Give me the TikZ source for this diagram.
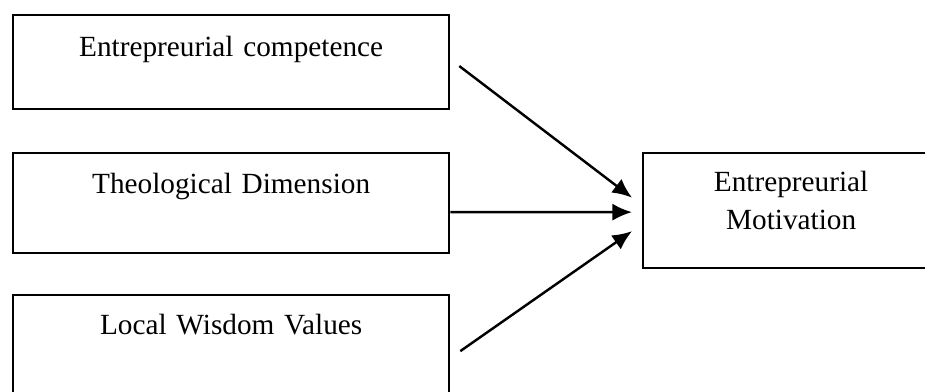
\documentclass[tikz,border=0pt]{standalone}
\usepackage{fontspec}
\setmainfont{Liberation Serif}
\usetikzlibrary{arrows.meta,positioning}

\tikzset{
  box/.style={draw, line width=0.9pt, inner sep=0pt, anchor=north west, align=center,
    font=\fontsize{12}{15.6}\selectfont},
  conn/.style={line width=1pt, -{Latex[length=8pt,width=7pt]}}
}

\begin{document}
\begin{tikzpicture}[x=0.41pt,y=-0.41pt]
\useasboundingbox (0,0) rectangle (925,392);

% Factors
\node[box, text width=178.8pt, text height=16.8pt, text depth=21.7pt] (comp) at (12,14) {Entrepreurial competence};
\node[box, text width=178.8pt, text height=16.4pt, text depth=24.6pt] (theo) at (12,152) {Theological Dimension};
\node[box, text width=178.8pt, text height=16.0pt, text depth=27.5pt] (wisd) at (12,294) {Local Wisdom Values};

% Outcome
\node[box, text width=121.4pt, text height=15.6pt, text depth=31.6pt] (motiv) at (642,152) {Entrepreurial\\Motivation};

% Arrows
\draw[conn] ([shift={(9,4)}]comp.east) -- ([shift={(-10,-13)}]motiv.west);
\draw[conn] ([shift={(0,9)}]theo.east) -- ([shift={(-10,1.5)}]motiv.west);
\draw[conn] ([shift={(10,3)}]wisd.east) -- ([shift={(-10,20.5)}]motiv.west);

\end{tikzpicture}
\end{document}
